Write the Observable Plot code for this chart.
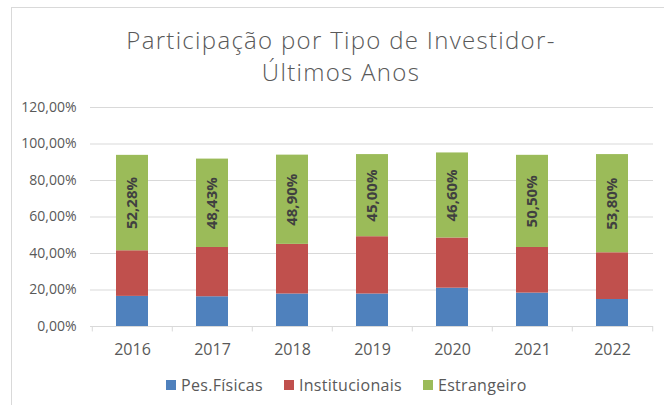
<!DOCTYPE html>
<html>
<head>
<meta charset="utf-8">
<script src="https://cdn.jsdelivr.net/npm/d3@7"></script>
<script src="https://cdn.jsdelivr.net/npm/@observablehq/plot@0.6"></script>
<style>
  html, body { margin: 0; padding: 0; background: #fff; }
  #wrap { position: relative; width: 664px; height: 405px; overflow: hidden; font-family: "Open Sans", sans-serif; }
  #frame { position: absolute; left: 11px; top: 7px; width: 700px; height: 500px; border-left: 1px solid #d9d9d9; border-top: 1px solid #d9d9d9; }
  #title { position: absolute; left: 18px; width: 646px; top: 24px; text-align: center; color: #595959; font-size: 24px; font-weight: 300; line-height: 32px; letter-spacing: 1.3px; }
  #chart { position: absolute; left: 0; top: 90px; }
  #legend { position: absolute; left: 166px; top: 374px; display: flex; align-items: center; color: #595959; font-size: 16px; letter-spacing: 0.3px; }
  #legend .item { display: flex; align-items: center; margin-right: 21px; }
  #legend .sw { width: 10px; height: 10px; margin-right: 5px; }
</style>
</head>
<body>
<div id="wrap">
  <div id="frame"></div>
  <div id="title">Participação por Tipo de Investidor-<br>Últimos Anos</div>
  <div id="chart"></div>
  <div id="legend"></div>
</div>
<script>
const years = ["2016", "2017", "2018", "2019", "2020", "2021", "2022"];
const pesFisicas = [16.5, 16.3, 17.8, 17.8, 21.0, 18.3, 14.8];
const institucionais = [25.0, 27.0, 27.2, 31.4, 27.5, 25.0, 25.6];
const estrangeiro = [52.28, 48.43, 48.90, 45.00, 46.60, 50.50, 53.80];
const series = ["Pes.Físicas", "Institucionais", "Estrangeiro"];
const colors = ["#4F81BD", "#C0504D", "#9BBB59"];
const yTicks = [0, 20, 40, 60, 80, 100, 120];

const seriesValues = [pesFisicas, institucionais, estrangeiro];
const rows = [];
years.forEach((y, i) => {
  series.forEach((s, j) => rows.push({year: y, series: s, value: seriesValues[j][i]}));
});

const fmt = v => v.toFixed(2).replace(".", ",") + "%";

const W = 664, H = 270, mL = 90, mR = 11, mT = 17, mB = 34;
const step = (W - mL - mR) / years.length;

const chart = Plot.plot({
  width: W,
  height: H,
  marginLeft: mL,
  marginRight: mR,
  marginTop: mT,
  marginBottom: mB,
  style: {fontFamily: "Open Sans", background: "transparent", color: "#595959", overflow: "visible"},
  x: {domain: years, paddingInner: 0.602, paddingOuter: 0.301, label: null},
  y: {domain: [0, 120], label: null},
  color: {domain: series, range: colors},
  marks: [
    Plot.ruleY(yTicks, {stroke: "#d9d9d9", strokeWidth: 1}),
    Plot.barY(rows, {x: "year", y: "value", fill: "series", z: "series", order: series}),
    Plot.text(rows, Plot.stackY({
      x: "year", y: "value", z: "series", order: series,
      text: d => d.series === "Estrangeiro" ? fmt(d.value) : null,
      rotate: -90, fontWeight: "bold", fontSize: 15, fill: "#404040"
    })),
    Plot.ruleX(years, {x: d => d, dx: -step / 2, y1: 0, y2: -3, stroke: "#d9d9d9"}),
    Plot.ruleX(years.slice(-1), {x: d => d, dx: step / 2, y1: 0, y2: -3, stroke: "#d9d9d9"}),
    Plot.axisY({ticks: yTicks, tickSize: 0, tickPadding: 14, tickFormat: fmt, fontSize: 14, fill: "#595959"}),
    Plot.axisX({tickSize: 0, tickPadding: 17, fontSize: 16, fill: "#595959"})
  ]
});
document.getElementById("chart").appendChild(chart);

const legend = document.getElementById("legend");
series.forEach((s, i) => {
  const item = document.createElement("div");
  item.className = "item";
  const sw = document.createElement("span");
  sw.className = "sw";
  sw.style.background = colors[i];
  const t = document.createElement("span");
  t.textContent = s;
  item.appendChild(sw);
  item.appendChild(t);
  legend.appendChild(item);
});
</script>
</body>
</html>
